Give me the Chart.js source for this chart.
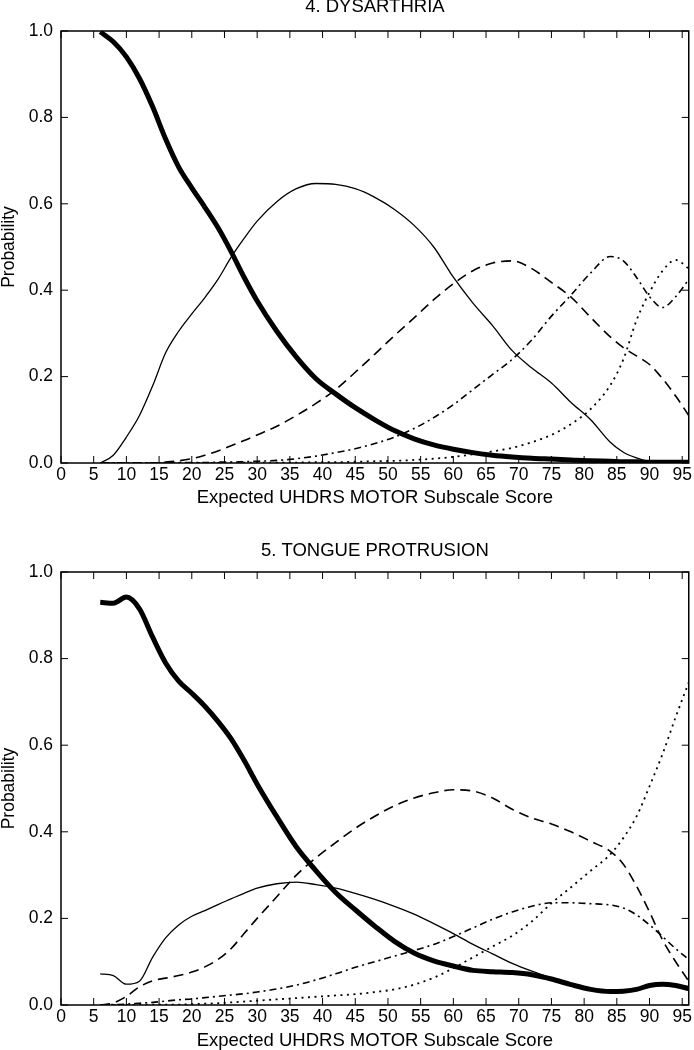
<!DOCTYPE html>
<html>
<head>
<meta charset="utf-8">
<title>Dysarthria / Tongue protrusion</title>
<script src="https://cdn.jsdelivr.net/npm/chart.js@4/dist/chart.umd.min.js"></script>
<style>
  body { margin: 0; background: #fff; }
  canvas { display: block; }
</style>
</head>
<body>
<canvas id="dysarthria" width="694" height="520"></canvas>
<canvas id="tongue" width="694" height="530"></canvas>
<script>
var scores = [6, 8, 10, 12, 14, 16, 18, 20, 22, 24, 26, 28, 30, 33, 36, 39, 42, 45, 48, 51,
              54, 57, 60, 63, 66, 69, 72, 75, 78, 81, 84, 86, 88, 90, 92, 94, 96];

// 4. dysarthria, one array per item score 0..4
var dysarthria0 = [0.998, 0.975, 0.94, 0.89, 0.825, 0.75, 0.685, 0.637, 0.592, 0.545, 0.49, 0.43, 0.375, 0.305, 0.245, 0.195, 0.16, 0.128, 0.1, 0.075,
                   0.056, 0.042, 0.032, 0.024, 0.018, 0.014, 0.011, 0.009, 0.007, 0.005, 0.004, 0.003, 0.003, 0.002, 0.002, 0.002, 0.002];
var dysarthria1 = [0.0, 0.018, 0.06, 0.11, 0.178, 0.255, 0.305, 0.345, 0.383, 0.425, 0.476, 0.52, 0.56, 0.605, 0.635, 0.647, 0.645, 0.635, 0.615, 0.587,
                   0.55, 0.5, 0.43, 0.37, 0.318, 0.26, 0.22, 0.185, 0.14, 0.1, 0.048, 0.025, 0.012, 0.003, 0, 0, 0];
var dysarthria2 = [0, 0, 0, 0, 0, 0.002, 0.005, 0.01, 0.018, 0.028, 0.04, 0.052, 0.065, 0.085, 0.11, 0.138, 0.17, 0.21, 0.252, 0.295,
                   0.336, 0.378, 0.415, 0.445, 0.463, 0.468, 0.45, 0.418, 0.384, 0.337, 0.292, 0.267, 0.248, 0.228, 0.195, 0.155, 0.11];
var dysarthria3 = [0, 0, 0, 0, 0, 0, 0.001, 0.001, 0.001, 0.002, 0.002, 0.003, 0.004, 0.006, 0.01, 0.016, 0.024, 0.033, 0.045, 0.06,
                   0.08, 0.105, 0.135, 0.17, 0.205, 0.24, 0.285, 0.34, 0.389, 0.44, 0.478, 0.468, 0.43, 0.385, 0.36, 0.385, 0.425];
var dysarthria4 = [0, 0, 0, 0, 0, 0, 0, 0, 0, 0, 0.001, 0.001, 0.001, 0.001, 0.001, 0.002, 0.002, 0.003, 0.004, 0.005,
                   0.007, 0.01, 0.014, 0.02, 0.027, 0.035, 0.048, 0.065, 0.09, 0.125, 0.18, 0.24, 0.33, 0.395, 0.445, 0.47, 0.45];

// 5. tongue protrusion
var tongue0 = [0.93, 0.928, 0.942, 0.915, 0.85, 0.79, 0.748, 0.72, 0.69, 0.655, 0.615, 0.565, 0.51, 0.435, 0.365, 0.31, 0.26, 0.22, 0.182, 0.147,
               0.12, 0.102, 0.09, 0.08, 0.077, 0.075, 0.07, 0.06, 0.047, 0.036, 0.031, 0.032, 0.036, 0.045, 0.048, 0.045, 0.038];
var tongue1 = [0.072, 0.068, 0.048, 0.055, 0.11, 0.155, 0.185, 0.205, 0.218, 0.232, 0.245, 0.258, 0.27, 0.28, 0.284, 0.278, 0.27, 0.258, 0.244, 0.228,
               0.21, 0.188, 0.165, 0.14, 0.118, 0.096, 0.078, 0.062, 0.047, 0.036, 0.031, 0.032, 0.036, 0.045, 0.048, 0.045, 0.038];
var tongue2 = [0, 0.005, 0.02, 0.042, 0.056, 0.062, 0.068, 0.076, 0.088, 0.105, 0.13, 0.165, 0.2, 0.25, 0.3, 0.34, 0.375, 0.408, 0.436, 0.46,
               0.478, 0.49, 0.497, 0.494, 0.478, 0.452, 0.432, 0.418, 0.4, 0.378, 0.355, 0.325, 0.275, 0.215, 0.15, 0.1, 0.055];
var tongue3 = [0, 0.001, 0.002, 0.004, 0.006, 0.009, 0.012, 0.014, 0.017, 0.02, 0.023, 0.026, 0.03, 0.037, 0.046, 0.058, 0.072, 0.087, 0.1, 0.113,
               0.126, 0.14, 0.158, 0.178, 0.198, 0.215, 0.228, 0.236, 0.236, 0.234, 0.231, 0.224, 0.208, 0.185, 0.158, 0.13, 0.105];
var tongue4 = [0, 0, 0, 0, 0.001, 0.001, 0.001, 0.002, 0.003, 0.004, 0.006, 0.008, 0.01, 0.013, 0.016, 0.019, 0.022, 0.025, 0.03, 0.036,
               0.047, 0.063, 0.085, 0.11, 0.135, 0.16, 0.193, 0.235, 0.272, 0.31, 0.348, 0.386, 0.435, 0.505, 0.58, 0.665, 0.745];

var yTicks = [0, 0.2, 0.4, 0.6, 0.8, 1.0];

var FONT = "'Liberation Sans', Arial, sans-serif";

// line look per item score: thick, thin, dashed, dash-dot, dotted
var styles = [
  { borderWidth: 5, borderDash: [] },
  { borderWidth: 1.3, borderDash: [] },
  { borderWidth: 1.6, borderDash: [10, 6] },
  { borderWidth: 1.6, borderDash: [7, 4, 2, 4] },
  { borderWidth: 1.8, borderDash: [2, 4.5] }
];

function points(arr) {
  return scores.map(function (x, i) { return { x: x, y: arr[i] }; });
}

// box round the plot with small ticks pointing inwards on all four sides
var frameTicks = {
  id: 'frameTicks',
  afterDatasetsDraw: function (chart) {
    var ctx = chart.ctx, a = chart.chartArea;
    var x = chart.scales.x, y = chart.scales.y;
    ctx.save();
    ctx.strokeStyle = '#000';
    ctx.lineWidth = 1.5;
    ctx.strokeRect(a.left, a.top, a.right - a.left, a.bottom - a.top);
    ctx.lineWidth = 1;
    ctx.beginPath();
    x.ticks.forEach(function (t) {
      var px = x.getPixelForValue(t.value);
      ctx.moveTo(px, a.bottom); ctx.lineTo(px, a.bottom - 7);
      ctx.moveTo(px, a.top); ctx.lineTo(px, a.top + 7);
    });
    y.ticks.forEach(function (t) {
      var py = y.getPixelForValue(t.value);
      ctx.moveTo(a.left, py); ctx.lineTo(a.left + 7, py);
      ctx.moveTo(a.right, py); ctx.lineTo(a.right - 7, py);
    });
    ctx.stroke();
    ctx.restore();
  }
};

function makeChart(id, title, series, lay) {
  var datasets = series.map(function (arr, i) {
    return {
      data: points(arr),
      borderColor: '#000',
      borderWidth: styles[i].borderWidth,
      borderDash: styles[i].borderDash,
      pointRadius: 0,
      fill: false,
      cubicInterpolationMode: 'monotone'
    };
  });

  return new Chart(document.getElementById(id), {
    type: 'line',
    data: { datasets: datasets },
    options: {
      responsive: false,
      animation: false,
      devicePixelRatio: 1,
      layout: { padding: { left: 0, right: 2, top: 0, bottom: 0 } },
      plugins: {
        legend: { display: false },
        tooltip: { enabled: false },
        title: {
          display: true,
          fullSize: false,
          text: title,
          color: '#000',
          font: { family: FONT, size: 18.5, weight: 'normal', lineHeight: 1 },
          padding: { top: lay.titleTop, bottom: lay.titleBottom }
        }
      },
      scales: {
        x: {
          type: 'linear',
          min: 0,
          max: 96,
          grid: { display: false, drawTicks: false },
          border: { display: false },
          ticks: {
            stepSize: 5,
            includeBounds: false,
            padding: 2,
            maxRotation: 0,
            color: '#000',
            font: { family: FONT, size: 17.5 }
          },
          title: {
            display: true,
            text: 'Expected UHDRS MOTOR Subscale Score',
            color: '#000',
            font: { family: FONT, size: 18.5, lineHeight: 1 },
            padding: { top: 0, bottom: lay.xTitleBottom }
          },
          afterFit: function (s) { s.height = lay.xHeight; }
        },
        y: {
          min: 0,
          max: 1,
          grid: { display: false, drawTicks: false },
          border: { display: false },
          afterBuildTicks: function (s) {
            s.ticks = yTicks.map(function (v) { return { value: v }; });
          },
          ticks: {
            padding: 8,
            color: '#000',
            font: { family: FONT, size: 17.5 },
            callback: function (v) { return Number(v).toFixed(1); }
          },
          title: {
            display: true,
            text: 'Probability',
            color: '#000',
            font: { family: FONT, size: 17.5, lineHeight: 1 },
            padding: { top: 0, bottom: 0 }
          },
          afterFit: function (s) { s.width = 61; }
        }
      }
    },
    plugins: [frameTicks]
  });
}

makeChart('dysarthria', '4. DYSARTHRIA',
  [dysarthria0, dysarthria1, dysarthria2, dysarthria3, dysarthria4],
  { titleTop: -2, titleBottom: 14.5, xHeight: 57, xTitleBottom: 13 });

makeChart('tongue', '5. TONGUE PROTRUSION',
  [tongue0, tongue1, tongue2, tongue3, tongue4],
  { titleTop: 22, titleBottom: 11.5, xHeight: 45, xTitleBottom: 0 });
</script>
</body>
</html>
